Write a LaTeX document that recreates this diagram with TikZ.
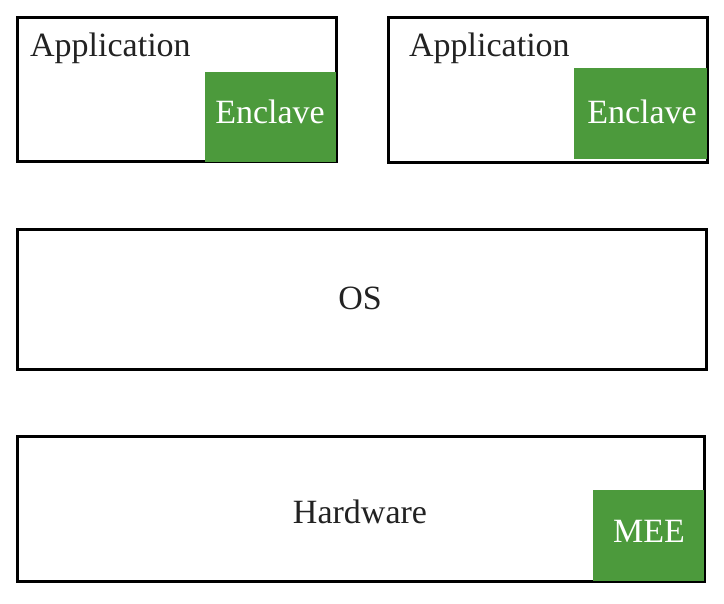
\documentclass[tikz,border=0pt]{standalone}
\usepackage{fontspec}
\setmainfont{Liberation Serif}
\definecolor{encgreen}{RGB}{76,154,60}
\definecolor{txt}{RGB}{34,34,34}
\begin{document}
\begin{tikzpicture}[x=1pt,y=-1pt,
  layer/.style={draw=black, line width=2.8pt, fill=white, inner sep=0pt, anchor=north west},
  greenbox/.style={fill=encgreen, draw=none, inner sep=0pt, anchor=north west},
  lbl/.style={text=txt, font=\fontsize{34}{40}\selectfont, inner sep=0pt},
  wlbl/.style={text=white, font=\fontsize{34}{40}\selectfont, inner sep=0pt, anchor=base}]
\useasboundingbox (0,0) rectangle (724,604);
% Application 1
\node[layer, minimum width=319pt, minimum height=144pt] (app1) at (16,16) {};
\node[greenbox, minimum width=131pt, minimum height=90pt] (enc1) at (205,72) {};
\node[lbl, anchor=base west] (app1t) at (30,57) {Application};
\node[wlbl] (enc1t) at (270,124) {Enclave};
% Application 2
\node[layer, minimum width=319pt, minimum height=145pt] (app2) at (387,16) {};
\node[greenbox, minimum width=133pt, minimum height=91pt] (enc2) at (574,68) {};
\node[lbl, anchor=base west] (app2t) at (409,57) {Application};
\node[wlbl] (enc2t) at (642,124) {Enclave};
% OS
\node[layer, minimum width=689pt, minimum height=140pt] (os) at (16,228) {};
\node[lbl, anchor=base] (ost) at (360,310) {OS};
% Hardware
\node[layer, minimum width=687pt, minimum height=145pt] (hw) at (16,435) {};
\node[greenbox, minimum width=111pt, minimum height=91pt] (mee) at (593,490) {};
\node[lbl, anchor=base] (hwt) at (360,523) {Hardware};
\node[wlbl] (meet) at (649,542) {MEE};
\end{tikzpicture}
\end{document}
